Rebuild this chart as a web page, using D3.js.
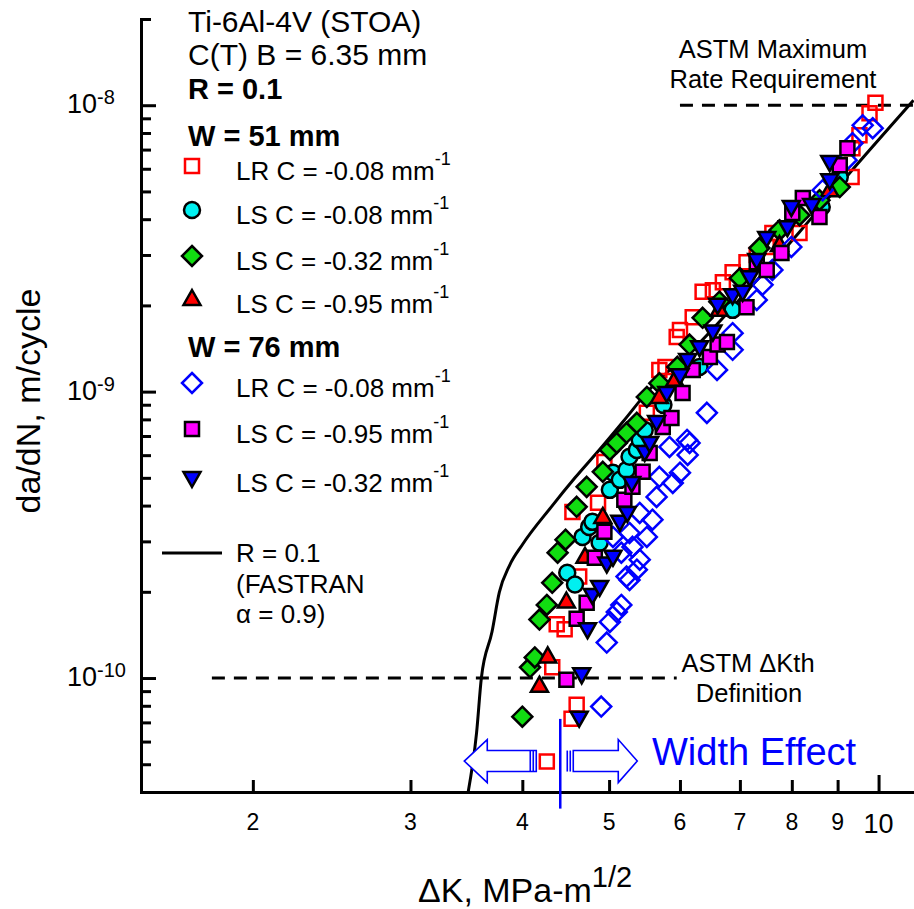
<!DOCTYPE html>
<html>
<head>
<meta charset="utf-8">
<script src="https://d3js.org/d3.v7.min.js"></script>
<style>
  body { margin: 0; background: #fff; }
  svg text { font-family: "Liberation Sans", Arial, sans-serif; fill: #000; }
</style>
</head>
<body>
<div id="chart"></div>
<script>
// ---- data (dK in MPa-m^1/2, da/dN in m/cycle) ----
// W = 51 mm
var lr51K = [4.26, 4.32, 4.37, 4.46, 4.60, 4.54, 4.55, 4.63, 4.86, 4.94, 5.51, 5.69, 5.78, 5.95, 6.00, 6.20, 6.36, 6.53, 6.70, 6.87, 7.12, 7.31, 7.50, 7.61, 8.16, 9.33, 9.35, 9.52, 9.77, 9.92];
var lr51R = [5.11e-11, 1.09e-10, 1.54e-10, 1.48e-10, 8.07e-11, 7.21e-11, 3.80e-10, 2.26e-10, 4.09e-10, 5.68e-10, 8.43e-10, 1.19e-9, 1.22e-9, 1.55e-9, 1.64e-9, 1.82e-9, 2.23e-9, 2.26e-9, 2.41e-9, 2.61e-9, 2.83e-9, 3.0e-9, 3.20e-9, 3.58e-9, 3.58e-9, 5.61e-9, 7.08e-9, 7.86e-9, 9.38e-9, 1.02e-8];

var ls08K = [4.49, 4.58, 4.67, 4.75, 4.79, 4.88, 5.01, 5.05, 5.14, 5.23, 5.27, 5.37, 5.41, 5.48, 5.75, 6.31, 6.87, 8.64, 9.05];
var ls08R = [2.33e-10, 2.12e-10, 3.11e-10, 3.37e-10, 3.51e-10, 2.97e-10, 4.54e-10, 5.21e-10, 4.92e-10, 5.33e-10, 5.92e-10, 6.26e-10, 6.78e-10, 7.35e-10, 8.99e-10, 1.22e-9, 1.93e-9, 4.41e-9, 5.61e-9];

var ls32K = [4.00, 4.08, 4.13, 4.18, 4.26, 4.32, 4.38, 4.47, 4.60, 4.72, 4.92, 5.01, 5.10, 5.23, 5.37, 5.51, 5.69, 5.96, 6.15, 6.36, 6.64, 7.00, 7.36, 7.75, 8.16, 8.59, 9.05];
var ls32R = [7.33e-11, 1.09e-10, 1.18e-10, 1.60e-10, 1.80e-10, 2.15e-10, 2.74e-10, 3.04e-10, 3.96e-10, 4.65e-10, 5.25e-10, 6.26e-10, 6.62e-10, 7.18e-10, 7.78e-10, 9.58e-10, 1.07e-9, 1.22e-9, 1.46e-9, 1.81e-9, 2.06e-9, 2.49e-9, 3.17e-9, 3.66e-9, 4.13e-9, 4.66e-9, 5.18e-9];

var ls95K = [4.18, 4.27, 4.48, 4.70, 4.92, 5.69, 5.92, 6.64, 7.75, 8.82];
var ls95R = [9.40e-11, 1.19e-10, 1.85e-10, 2.65e-10, 3.65e-10, 9.58e-10, 1.10e-9, 1.93e-9, 3.25e-9, 5.05e-9];

// W = 76 mm
var lr76K = [4.90, 4.97, 5.01, 5.10, 5.16, 5.23, 5.27, 5.37, 5.41, 5.05, 5.16, 5.27, 5.31, 5.41, 5.51, 5.59, 5.65, 5.69, 5.84, 5.89, 6.00, 6.12, 6.15, 6.11, 6.43, 6.60, 6.87, 6.87, 7.31, 7.42, 7.61, 7.99, 8.66, 9.21, 9.35, 9.60, 9.85];
var lr76R = [7.95e-11, 1.33e-10, 1.57e-10, 1.70e-10, 1.80e-10, 2.26e-10, 2.20e-10, 2.39e-10, 2.59e-10, 3.11e-10, 2.74e-10, 3.21e-10, 2.87e-10, 3.77e-10, 3.11e-10, 3.57e-10, 4.29e-10, 5.04e-10, 6.41e-10, 4.80e-10, 5.21e-10, 6.01e-10, 6.62e-10, 6.78e-10, 8.43e-10, 1.19e-9, 1.60e-9, 1.40e-9, 2.09e-9, 2.36e-9, 2.66e-9, 3.20e-9, 5.05e-9, 6.43e-9, 7.37e-9, 8.51e-9, 8.31e-9];

var ls95wK = [4.48, 4.60, 4.72, 4.82, 4.94, 5.20, 5.31, 5.45, 5.55, 5.74, 5.87, 6.04, 6.20, 6.48, 6.61, 6.77, 7.12, 7.31, 7.50, 7.79, 8.01, 8.23, 8.59, 9.05, 9.23];
var ls95wR = [9.87e-11, 1.61e-10, 1.83e-10, 2.63e-10, 3.24e-10, 4.19e-10, 4.65e-10, 5.25e-10, 6.11e-10, 7.53e-10, 8.09e-10, 9.89e-10, 1.19e-9, 1.32e-9, 1.46e-9, 1.49e-9, 1.97e-9, 2.83e-9, 2.66e-9, 3.05e-9, 4.20e-9, 4.74e-9, 4.07e-9, 6.17e-9, 7.08e-9];

var ls32wK = [4.63, 4.66, 4.73, 4.79, 4.88, 4.97, 5.05, 5.14, 5.24, 5.30, 5.48, 5.55, 5.65, 5.80, 6.00, 6.12, 6.31, 6.53, 6.61, 6.87, 7.05, 7.18, 7.31, 7.50, 7.91, 7.99, 8.42, 8.82, 8.82];
var ls32wR = [7.27e-11, 1.03e-10, 1.48e-10, 1.95e-10, 2.08e-10, 2.51e-10, 2.65e-10, 3.51e-10, 3.77e-10, 4.80e-10, 6.16e-10, 6.62e-10, 7.84e-10, 9.89e-10, 1.14e-9, 1.29e-9, 1.43e-9, 1.62e-9, 2.01e-9, 2.17e-9, 2.23e-9, 2.51e-9, 2.88e-9, 3.44e-9, 3.75e-9, 4.41e-9, 4.48e-9, 5.47e-9, 6.33e-9];

// FASTRAN R = 0.1 curve
var fastranK = [3.48, 3.556, 3.60, 3.70, 3.77, 3.87, 4.0, 4.31, 4.58, 4.88, 5.19, 5.52, 6.31, 7.18, 8.16, 9.28, 10.94];
var fastranR = [4.0e-11, 6.45e-11, 1.0e-10, 1.45e-10, 1.99e-10, 2.47e-10, 2.92e-10, 3.96e-10, 5.0e-10, 6.28e-10, 7.9e-10, 1.0e-9, 1.48e-9, 2.30e-9, 3.61e-9, 5.79e-9, 1.04e-8];

// ASTM reference lines
var astmMaxRate = 1e-8, astmMaxK = [6.0, 11];
var astmThRate = 1e-10, astmThK = [1.8, 5.95];
var widthEffectK = 4.41, widthEffectR = [3.5e-11, 7.2e-11], widthArrowR = 5.13e-11;

// axes ticks
var xTicks = [2, 3, 4, 5, 6, 7, 8, 9, 10];
var xTickLabels = ["2", "3", "4", "5", "6", "7", "8", "9", "10"];
var yMajor = [1e-10, 1e-9, 1e-8];
var yMajorExp = ["-10", "-9", "-8"];
var yMinor = [5e-11, 6e-11, 7e-11, 8e-11, 9e-11, 2e-10, 3e-10, 4e-10, 5e-10, 6e-10, 7e-10, 8e-10, 9e-10,
              2e-9, 3e-9, 4e-9, 5e-9, 6e-9, 7e-9, 8e-9, 9e-9, 2e-8];

var legendLabels = ["LR C = -0.08 mm", "LS C = -0.08 mm", "LS C = -0.32 mm", "LS C = -0.95 mm",
                    "LR C = -0.08 mm", "LS C = -0.95 mm", "LS C = -0.32 mm"];

//************************************************************
// setup
//************************************************************
var width = 914, height = 909;
var svg = d3.select("#chart").append("svg")
    .attr("width", width)
    .attr("height", height);

var x = d3.scaleLog().domain([1.5, 11]).range([141, 141 + 895.2 * Math.log10(11 / 1.5)]);
var y = d3.scaleLog().domain([4e-11, 2e-8]).range([792, 19]);

// marker shapes
var shapes = {
    square: "M-7,-7h14v14h-14Z",
    diamond: "M0,-10L10,0L0,10L-10,0Z",
    triUp: "M0,-9L8.5,6L-8.5,6Z",
    triDown: "M0,9L8.5,-6L-8.5,-6Z",
    circle: "M8,0A8,8 0 1,1 -8,0A8,8 0 1,1 8,0Z"
};

var series = [
    { K: lr51K,  R: lr51R,  shape: "square",  fill: "none",    stroke: "#ff0000" },
    { K: ls08K,  R: ls08R,  shape: "circle",  fill: "#00f0f0", stroke: "#000" },
    { K: ls32K,  R: ls32R,  shape: "diamond", fill: "#11dd11", stroke: "#000" },
    { K: ls95K,  R: ls95R,  shape: "triUp",   fill: "#ff0000", stroke: "#000" },
    { K: lr76K,  R: lr76R,  shape: "diamond", fill: "none",    stroke: "#0000ff" },
    { K: ls95wK, R: ls95wR, shape: "square",  fill: "#ff00ff", stroke: "#000" },
    { K: ls32wK, R: ls32wR, shape: "triDown", fill: "#0000ff", stroke: "#000" }
];

//************************************************************
// axes
//************************************************************
function styleAxis(g) {
    g.selectAll("path, line").attr("stroke", "#000").attr("stroke-width", 3);
    g.select(".domain").attr("stroke-linecap", "square");
}
svg.append("g").attr("transform", "translate(141,0)")
    .call(d3.axisRight(y).tickValues(yMinor).tickSize(10).tickSizeOuter(0).tickFormat(""))
    .call(styleAxis);
svg.append("g").attr("transform", "translate(141,0)")
    .call(d3.axisRight(y).tickValues(yMajor).tickSize(15).tickSizeOuter(0).tickFormat(""))
    .call(styleAxis);
svg.append("g").attr("transform", "translate(0,792)")
    .call(d3.axisTop(x).tickValues(xTicks.slice(0, 8)).tickSize(12).tickSizeOuter(0).tickFormat(""))
    .call(styleAxis);
svg.append("g").attr("transform", "translate(0,792)")
    .call(d3.axisTop(x).tickValues([10]).tickSize(17).tickSizeOuter(0).tickFormat(""))
    .call(styleAxis);

// y tick labels 10^n
svg.selectAll(".ylab").data(yMajor).enter().append("text")
    .attr("x", 67)
    .attr("y", function(d) { return y(d) + 8; })
    .style("font-size", "27px")
    .each(function(d, i) {
        var t = d3.select(this);
        t.append("tspan").text("10");
        t.append("tspan").attr("dy", -9).style("font-size", "20px").text(yMajorExp[i]);
    });

// x tick labels
svg.selectAll(".xlab").data(xTicks).enter().append("text")
    .attr("x", function(d) { return x(d); })
    .attr("y", function(d) { return d === 10 ? 833 : 830; })
    .attr("text-anchor", "middle")
    .style("font-size", function(d) { return d === 10 ? "27px" : "23px"; })
    .text(function(d, i) { return xTickLabels[i]; });

// axis titles
var xt = svg.append("text").attr("x", 418).attr("y", 902).style("font-size", "34px");
xt.append("tspan").text("\u0394K, MPa-m");
xt.append("tspan").attr("dy", -15).style("font-size", "29px").text("1/2");

svg.append("text")
    .attr("transform", "translate(40,401) rotate(-90)")
    .attr("text-anchor", "middle")
    .style("font-size", "34px")
    .text("da/dN, m/cycle");

//************************************************************
// reference lines and FASTRAN curve
//************************************************************
svg.append("line")
    .attr("x1", x(astmMaxK[0])).attr("x2", x(astmMaxK[1]))
    .attr("y1", y(astmMaxRate)).attr("y2", y(astmMaxRate))
    .attr("stroke", "#000").attr("stroke-width", 3).attr("stroke-dasharray", "13,9");
svg.append("line")
    .attr("x1", x(astmThK[0])).attr("x2", x(astmThK[1]))
    .attr("y1", y(astmThRate)).attr("y2", y(astmThRate))
    .attr("stroke", "#000").attr("stroke-width", 3).attr("stroke-dasharray", "13,9");

var curve = d3.line()
    .x(function(d) { return x(d[0]); })
    .y(function(d) { return y(d[1]); })
    .curve(d3.curveMonotoneX);
svg.append("path")
    .datum(d3.zip(fastranK, fastranR))
    .attr("d", curve)
    .attr("fill", "none").attr("stroke", "#000").attr("stroke-width", 3);

//************************************************************
// data points
//************************************************************
series.forEach(function(s) {
    svg.append("g").selectAll("path")
        .data(d3.zip(s.K, s.R))
        .enter().append("path")
        .attr("transform", function(d) { return "translate(" + x(d[0]) + "," + y(d[1]) + ")"; })
        .attr("d", shapes[s.shape])
        .attr("fill", s.fill)
        .attr("stroke", s.stroke)
        .attr("stroke-width", 2.5);
});

//************************************************************
// width effect
//************************************************************
var wx = x(widthEffectK), wy = y(widthArrowR);
svg.append("line")
    .attr("x1", wx).attr("x2", wx)
    .attr("y1", y(widthEffectR[1])).attr("y2", y(widthEffectR[0]))
    .attr("stroke", "#0000ff").attr("stroke-width", 2.5);
var arrows = svg.append("g").attr("transform", "translate(" + wx + "," + wy + ")")
    .attr("fill", "#fff").attr("stroke", "#0000ff").attr("stroke-width", 1.6);
arrows.append("path").attr("d", "M-96,0L-73,-21.5V-10.5H-24V10.5H-73V21.5Z");
arrows.append("path").attr("d", "M77,0L58,-21.5V-10.5H13V10.5H58V21.5Z");
[-30, -27, 7, 10].forEach(function(dx) {
    arrows.append("line").attr("x1", dx).attr("x2", dx).attr("y1", -10.5).attr("y2", 10.5);
});
svg.append("text").attr("x", 652).attr("y", 765)
    .style("font-size", "38px").style("fill", "#0000ff").text("Width Effect");

// annotations
svg.append("text").attr("x", 773).attr("y", 58).attr("text-anchor", "middle").style("font-size", "25.5px").text("ASTM Maximum");
svg.append("text").attr("x", 773).attr("y", 88).attr("text-anchor", "middle").style("font-size", "25.5px").text("Rate Requirement");
svg.append("text").attr("x", 748).attr("y", 672).attr("text-anchor", "middle").style("font-size", "25.5px").text("ASTM \u0394Kth");
svg.append("text").attr("x", 749).attr("y", 702).attr("text-anchor", "middle").style("font-size", "25.5px").text("Definition");

//************************************************************
// legend
//************************************************************
var heads = [
    { t: "Ti-6Al-4V (STOA)", y: 32, bold: false },
    { t: "C(T) B = 6.35 mm", y: 65, bold: false },
    { t: "R = 0.1", y: 99, bold: true },
    { t: "W = 51 mm", y: 146, bold: true },
    { t: "W = 76 mm", y: 357, bold: true }
];
heads.forEach(function(h) {
    svg.append("text").attr("x", 188).attr("y", h.y)
        .style("font-size", h.bold ? "29px" : "30px")
        .style("font-weight", h.bold ? "bold" : "normal")
        .text(h.t);
});

var legendY = [166, 210, 256, 299, 383, 429, 478];
series.forEach(function(s, i) {
    svg.append("path")
        .attr("transform", "translate(192," + legendY[i] + ")")
        .attr("d", shapes[s.shape])
        .attr("fill", s.fill)
        .attr("stroke", s.stroke)
        .attr("stroke-width", 2.5);
    var t = svg.append("text").attr("x", 236).attr("y", legendY[i] + 14).style("font-size", "26px");
    t.append("tspan").text(legendLabels[i]);
    t.append("tspan").attr("dy", -15).style("font-size", "18px").text("-1");
});

svg.append("line").attr("x1", 162).attr("x2", 222).attr("y1", 553).attr("y2", 553)
    .attr("stroke", "#000").attr("stroke-width", 3);
["R = 0.1", "(FASTRAN", "\u03b1 = 0.9)"].forEach(function(s, i) {
    svg.append("text").attr("x", 236).attr("y", 562 + i * 30.5).style("font-size", "26px").text(s);
});
</script>
</body>
</html>
